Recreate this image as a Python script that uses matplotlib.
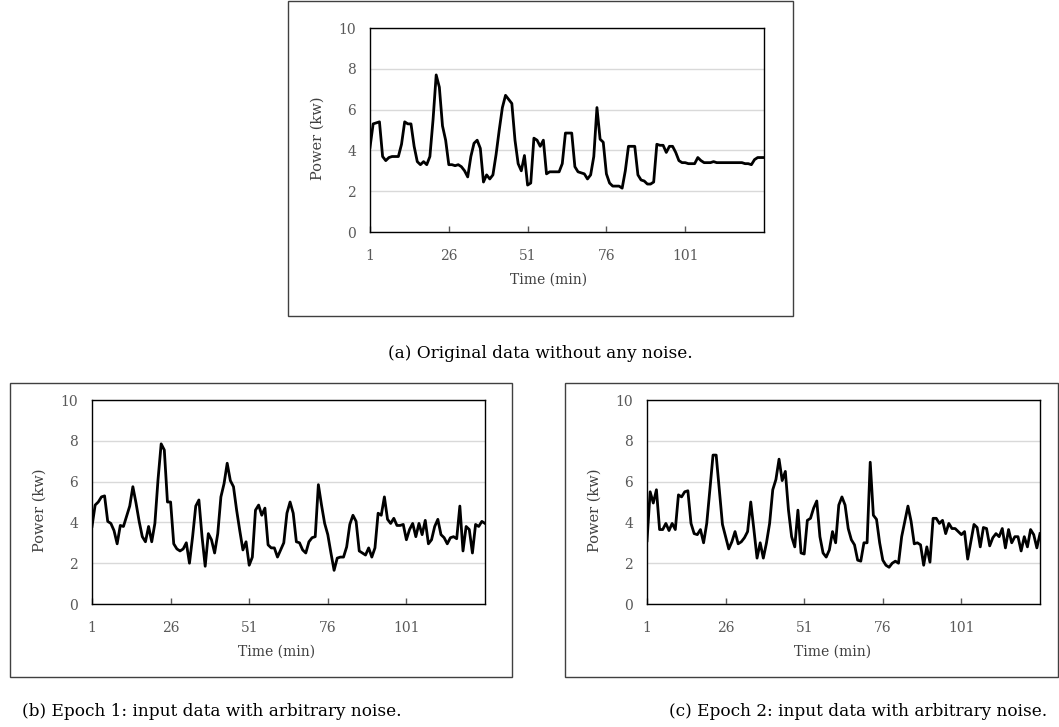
import matplotlib
matplotlib.use("Agg")
import matplotlib.pyplot as plt
from matplotlib.patches import Rectangle
import numpy as np

# power (kw) per minute
original = [4.15, 5.3, 5.35, 5.4, 3.7, 3.5, 3.65, 3.7, 3.7, 3.7,
            4.3, 5.4, 5.3, 5.3, 4.2, 3.45, 3.3, 3.45, 3.3, 3.7,
            5.5, 7.7, 7.1, 5.2, 4.5, 3.3, 3.3, 3.25, 3.3, 3.2,
            3.0, 2.7, 3.7, 4.35, 4.5, 4.1, 2.45, 2.8, 2.6, 2.8,
            3.8, 5.0, 6.1, 6.7, 6.5, 6.3, 4.5, 3.35, 3.0, 3.75,
            2.3, 2.4, 4.6, 4.5, 4.2, 4.5, 2.85, 2.95, 2.95, 2.95,
            2.95, 3.35, 4.85, 4.85, 4.85, 3.2, 2.95, 2.9, 2.85, 2.6,
            2.8, 3.7, 6.1, 4.55, 4.4, 2.85, 2.4, 2.25, 2.25, 2.25,
            2.15, 3.0, 4.2, 4.2, 4.2, 2.8, 2.55, 2.5, 2.35, 2.35,
            2.45, 4.3, 4.25, 4.25, 3.9, 4.2, 4.2, 3.9, 3.5, 3.4,
            3.4, 3.35, 3.35, 3.35, 3.65, 3.5, 3.4, 3.4, 3.4, 3.45,
            3.4, 3.4, 3.4, 3.4, 3.4, 3.4, 3.4, 3.4, 3.4, 3.35,
            3.35, 3.3, 3.55, 3.65, 3.65, 3.65]

epoch1 = [3.8, 4.85, 5.0, 5.25, 5.3, 4.05, 3.95, 3.6, 2.95, 3.85,
          3.8, 4.3, 4.8, 5.75, 4.95, 4.05, 3.3, 3.05, 3.8, 3.05,
          3.95, 6.1, 7.85, 7.55, 5.0, 5.0, 2.95, 2.7, 2.6, 2.7,
          3.0, 2.0, 3.3, 4.8, 5.1, 3.3, 1.85, 3.45, 3.15, 2.5,
          3.45, 5.25, 5.9, 6.9, 6.05, 5.75, 4.6, 3.6, 2.65, 3.05,
          1.9, 2.3, 4.6, 4.85, 4.35, 4.7, 2.9, 2.75, 2.75, 2.3,
          2.65, 3.0, 4.45, 5.0, 4.45, 3.05, 3.0, 2.65, 2.5, 3.05,
          3.25, 3.3, 5.85, 4.85, 3.95, 3.4, 2.5, 1.65, 2.25, 2.3,
          2.3, 2.8, 3.9, 4.35, 4.05, 2.6, 2.5, 2.4, 2.75, 2.3,
          2.75, 4.45, 4.35, 5.25, 4.15, 3.95, 4.2, 3.85, 3.85, 3.9,
          3.15, 3.65, 3.95, 3.3, 3.95, 3.4, 4.1, 2.95, 3.15, 3.8,
          4.15, 3.4, 3.25, 2.95, 3.25, 3.3, 3.2, 4.8, 2.6, 3.8,
          3.65, 2.5, 3.9, 3.8, 4.05, 3.95]

epoch2 = [3.1, 5.5, 4.95, 5.6, 3.65, 3.65, 3.95, 3.6, 3.95, 3.65,
          5.35, 5.25, 5.5, 5.55, 3.95, 3.45, 3.4, 3.65, 3.0, 3.95,
          5.6, 7.3, 7.3, 5.6, 3.9, 3.3, 2.7, 3.05, 3.55, 2.95,
          3.05, 3.25, 3.55, 5.0, 3.65, 2.25, 3.0, 2.25, 3.0, 3.95,
          5.6, 6.1, 7.1, 6.05, 6.5, 4.6, 3.3, 2.8, 4.6, 2.5,
          2.45, 4.1, 4.2, 4.7, 5.05, 3.3, 2.5, 2.3, 2.65, 3.55,
          3.0, 4.85, 5.25, 4.85, 3.7, 3.15, 2.9, 2.15, 2.1, 3.0,
          3.0, 6.95, 4.35, 4.15, 3.0, 2.15, 1.9, 1.8, 2.0, 2.1,
          2.0, 3.3, 4.05, 4.8, 4.05, 2.95, 3.0, 2.9, 1.9, 2.8,
          2.05, 4.2, 4.2, 3.95, 4.1, 3.45, 3.95, 3.7, 3.7, 3.55,
          3.4, 3.55, 2.2, 3.05, 3.9, 3.75, 2.8, 3.75, 3.7, 2.85,
          3.25, 3.45, 3.3, 3.7, 2.75, 3.65, 3.0, 3.3, 3.3, 2.6,
          3.3, 2.8, 3.65, 3.4, 2.75, 3.45]

minutes = np.arange(1, len(original) + 1)
x_ticks = [1, 26, 51, 76, 101]
y_ticks = [0, 2, 4, 6, 8, 10]

captions = ["(a) Original data without any noise.",
            "(b) Epoch 1: input data with arbitrary noise.",
            "(c) Epoch 2: input data with arbitrary noise."]

plt.rcParams['font.family'] = ['DejaVu Serif']

W, H = 1059, 727
fig = plt.figure(figsize=(W / 100, H / 100), dpi=100)


def px_box(l, t, r, b):
    return [l / W, 1 - b / H, (r - l) / W, (b - t) / H]


def draw_panel(series, plot_px, frame_px, xlab_x, caption, cap_xy):
    # outer chart border (like an Excel chart object)
    l, t, r, b = frame_px
    fig.patches.append(Rectangle((l / W, 1 - b / H), (r - l) / W, (b - t) / H,
                                 transform=fig.transFigure, fill=False,
                                 edgecolor='#404040', linewidth=1.0))
    pl, pt, pr, pb = plot_px
    ax = fig.add_axes(px_box(*plot_px))
    ax.plot(minutes, series, color='black', linewidth=2.0,
            solid_joinstyle='round', zorder=3)
    ax.set_xlim(1, len(series))
    ax.set_ylim(0, 10)
    ax.set_xticks(x_ticks)
    ax.set_yticks(y_ticks)
    ax.grid(axis='y', color='#d9d9d9', linewidth=1.0)
    ax.set_axisbelow(True)
    ax.tick_params(axis='x', direction='in', length=4, width=1,
                   colors='#595959', labelsize=10, pad=12)
    ax.tick_params(axis='y', length=0, colors='#595959', labelsize=10, pad=10)
    for s in ax.spines.values():
        s.set_color('black')
        s.set_linewidth(1.0)
    ax.set_xlabel('Time (min)', fontsize=10, color='#404040', labelpad=9)
    ax.xaxis.set_label_coords((xlab_x - pl) / (pr - pl), -0.2)
    ax.set_ylabel('Power (kw)', fontsize=10.5, color='#404040')
    ax.yaxis.set_label_coords(-45 / (pr - pl), 0.46)
    fig.text(cap_xy[0] / W, 1 - cap_xy[1] / H, caption, ha='center',
             va='center', fontsize=12.2, color='black')


draw_panel(original, (370, 28, 764, 232), (288, 1, 793, 316), 549,
           captions[0], (540, 354))
draw_panel(epoch1, (92, 400, 485, 604), (10, 383, 512, 677), 277,
           captions[1], (212, 711))
draw_panel(epoch2, (647, 400, 1040, 604), (565, 383, 1058, 677), 833,
           captions[2], (858, 711))

fig.savefig('out.png', dpi=100)
